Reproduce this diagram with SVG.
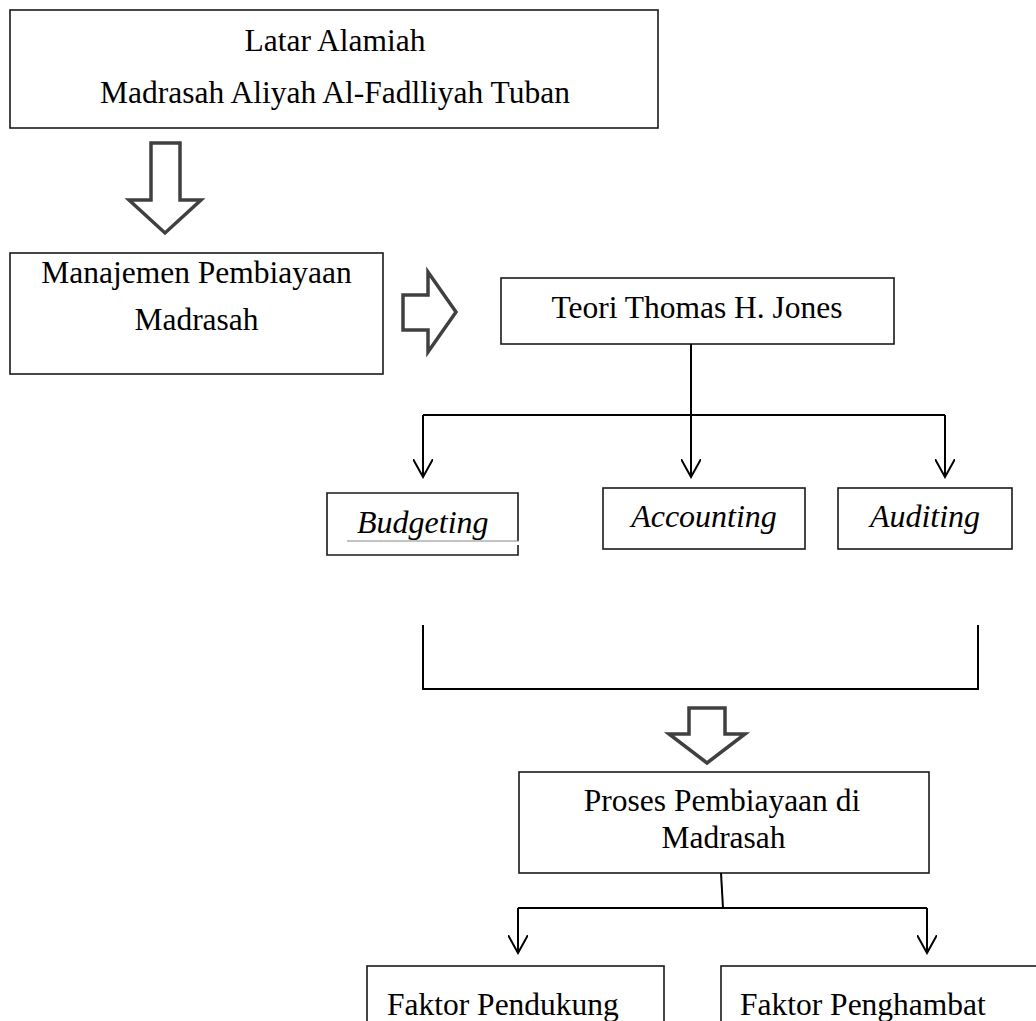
<svg xmlns="http://www.w3.org/2000/svg" width="1036" height="1021" viewBox="0 0 1036 1021">
<defs>
<style>
.box{fill:#fff;stroke:#1a1a1a;stroke-width:1.6}
.t{font-family:"Liberation Serif","Times New Roman",serif;font-size:31.5px;fill:#000}
.ti{font-family:"Liberation Serif","Times New Roman",serif;font-size:32px;font-style:italic;fill:#000}
.ln{fill:none;stroke:#000;stroke-width:2}
.hollow{fill:#fff;stroke:#404040;stroke-width:3.5;stroke-linejoin:miter}
</style>
<marker id="v" viewBox="0 0 20 20" refX="18" refY="10" markerWidth="20" markerHeight="20" markerUnits="userSpaceOnUse" orient="auto">
<path d="M0,0 L18,10 L0,20" fill="none" stroke="#000" stroke-width="2"/>
</marker>
</defs>
<rect width="1036" height="1021" fill="#fff"/>

<g id="latar">
<rect class="box" x="10" y="10" width="648" height="118"/>
<text class="t" x="335" y="51" text-anchor="middle">Latar Alamiah</text>
<text class="t" x="335" y="103" text-anchor="middle">Madrasah Aliyah Al-Fadlliyah Tuban</text>
</g>

<g id="manajemen">
<rect class="box" x="10" y="253" width="373" height="121"/>
<text class="t" x="196.5" y="283" text-anchor="middle">Manajemen Pembiayaan</text>
<text class="t" x="196.5" y="330" text-anchor="middle">Madrasah</text>
</g>

<g id="teori">
<rect class="box" x="501" y="278" width="393" height="66"/>
<text class="t" x="697" y="318" text-anchor="middle">Teori Thomas H. Jones</text>
</g>

<g id="budgeting">
<path d="M518,541 L518,493 L327,493 L327,555 L518,555 L518,545" fill="#fff" stroke="#1a1a1a" stroke-width="1.6"/>
<line x1="347" y1="541" x2="519" y2="541" stroke="#888" stroke-width="1.2"/>
<text class="ti" x="357" y="533">Budgeting</text>
</g>

<g id="accounting">
<rect class="box" x="603" y="488" width="202" height="61"/>
<text class="ti" x="704" y="527" text-anchor="middle">Accounting</text>
</g>

<g id="auditing">
<rect class="box" x="838" y="488" width="174" height="61"/>
<text class="ti" x="925" y="527" text-anchor="middle">Auditing</text>
</g>

<g id="proses">
<rect class="box" x="519" y="772" width="410" height="101"/>
<text class="t" x="722" y="811" text-anchor="middle">Proses Pembiayaan di</text>
<text class="t" x="723.5" y="848" text-anchor="middle">Madrasah</text>
</g>

<g id="pendukung">
<rect class="box" x="367" y="966" width="297" height="70"/>
<text class="t" x="387" y="1015">Faktor Pendukung</text>
</g>

<g id="penghambat">
<rect class="box" x="721" y="966" width="330" height="70"/>
<text class="t" x="740" y="1015">Faktor Penghambat</text>
</g>

<g id="connectors">
<path class="hollow" d="M151,143 L180,143 L180,200 L201,200 L165,233 L129,200 L151,200 Z"/>
<path class="hollow" d="M403,295 L428,295 L428,272 L456,312 L428,352 L428,330 L403,330 Z"/>
<path class="hollow" d="M689,708 L725,708 L725,734 L745,734 L707,763 L669,734 L689,734 Z"/>
<line class="ln" x1="691" y1="344" x2="691" y2="415"/>
<line class="ln" x1="423" y1="415" x2="945" y2="415"/>
<line class="ln" x1="423" y1="415" x2="423" y2="477" marker-end="url(#v)"/>
<line class="ln" x1="691" y1="415" x2="691" y2="477" marker-end="url(#v)"/>
<line class="ln" x1="945" y1="415" x2="945" y2="477" marker-end="url(#v)"/>
<path class="ln" d="M423,625 L423,689 L978,689 L978,625"/>
<line class="ln" x1="721" y1="873" x2="723" y2="908"/>
<line class="ln" x1="518" y1="908" x2="927" y2="908"/>
<line class="ln" x1="518" y1="908" x2="518" y2="953" marker-end="url(#v)"/>
<line class="ln" x1="927" y1="908" x2="927" y2="953" marker-end="url(#v)"/>
</g>
</svg>
